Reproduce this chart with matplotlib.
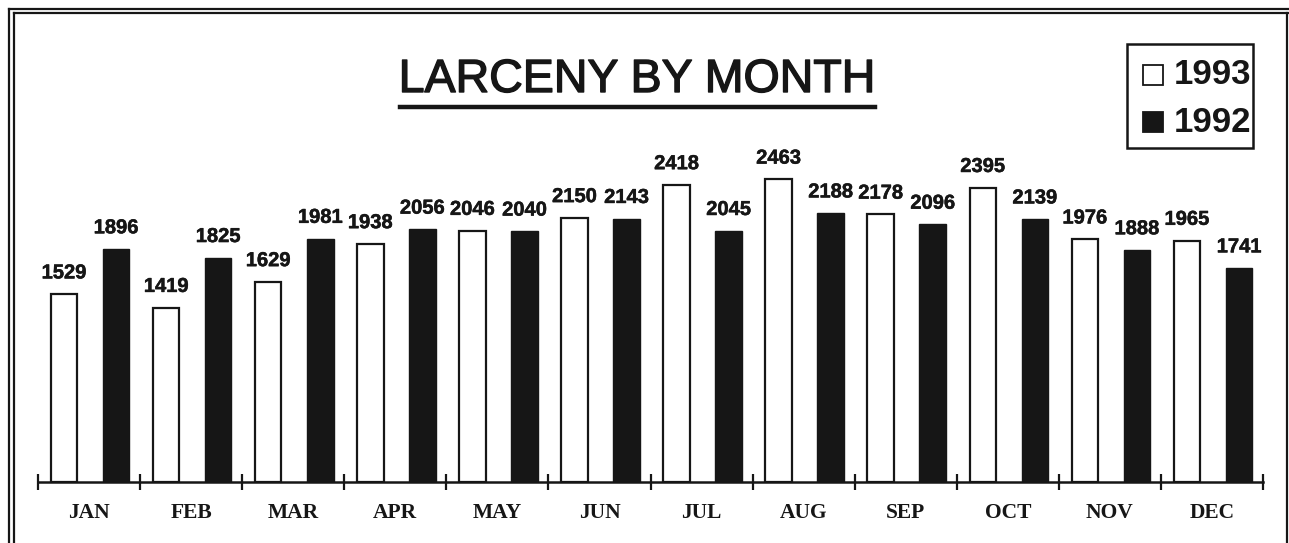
import matplotlib
matplotlib.use("Agg")
import matplotlib.pyplot as plt
import matplotlib.patheffects as pe
from matplotlib.patches import Rectangle
from matplotlib.lines import Line2D
import numpy as np

months = ["JAN", "FEB", "MAR", "APR", "MAY", "JUN",
          "JUL", "AUG", "SEP", "OCT", "NOV", "DEC"]
larceny_1993 = [1529, 1419, 1629, 1938, 2046, 2150, 2418, 2463, 2178, 2395, 1976, 1965]
larceny_1992 = [1896, 1825, 1981, 2056, 2040, 2143, 2045, 2188, 2096, 2139, 1888, 1741]
series_names = ["1993", "1992"]

W, H = 1289, 543
ink = "#161616"
thick = [pe.withStroke(linewidth=0.35, foreground=ink)]

fig = plt.figure(figsize=(W / 100, H / 100), dpi=100)
fig.patch.set_facecolor("white")

# axes placed in pixel terms: baseline y=482, x from 38 to 1263
ax = fig.add_axes([38 / W, (H - 482) / H, 1225 / W, 368.7 / H])
ax.set_xlim(0, 12)
ax.set_ylim(0, 3000)
ax.patch.set_alpha(0)

x = np.arange(len(months))
bw = 0.26
ax.bar(x + 0.255, larceny_1993, width=bw, color="white", edgecolor=ink,
       linewidth=1.6, zorder=3)
ax.bar(x + 0.765, larceny_1992, width=bw, color=ink, edgecolor=ink,
       linewidth=1.0, zorder=3)

for i in range(len(months)):
    ax.text(x[i] + 0.255, larceny_1993[i] + 95, str(larceny_1993[i]),
            ha="center", va="bottom", fontsize=14.5, fontweight="bold",
            family="Liberation Sans", color=ink, path_effects=thick)
    ax.text(x[i] + 0.765, larceny_1992[i] + 95, str(larceny_1992[i]),
            ha="center", va="bottom", fontsize=14.5, fontweight="bold",
            family="Liberation Sans", color=ink, path_effects=thick)

for s in ["top", "right", "left"]:
    ax.spines[s].set_visible(False)
ax.spines["bottom"].set_linewidth(1.8)
ax.spines["bottom"].set_color(ink)
ax.set_yticks([])
ax.set_xticks(np.arange(0, 13))
ax.set_xticklabels([])
ax.tick_params(axis="x", which="major", direction="inout", length=12,
               width=1.6, color=ink)
ax.set_xticks(x + 0.5, minor=True)
ax.set_xticklabels(months, minor=True, fontsize=15.5, fontweight="bold",
                   family="Liberation Serif", color=ink)
ax.tick_params(axis="x", which="minor", length=0, pad=15)

# title with underline
fig.text(637 / W, 1 - 80 / H, "LARCENY BY MONTH", ha="center", va="center",
         fontsize=33.5, family="Liberation Sans", color=ink,
         path_effects=[pe.withStroke(linewidth=1.0, foreground=ink)])
fig.add_artist(Line2D([400 / W, 875 / W], [1 - 107 / H, 1 - 107 / H],
                      transform=fig.transFigure, color=ink, linewidth=3.2))

# legend box
fig.add_artist(Rectangle((1127 / W, 1 - 148 / H), 126 / W, 104 / H,
                         transform=fig.transFigure, facecolor="white",
                         edgecolor=ink, linewidth=1.8))
for j, (name, fc) in enumerate(zip(series_names, ["white", ink])):
    yc = [75, 122][j]
    fig.add_artist(Rectangle((1143 / W, 1 - (yc + 10) / H), 20 / W, 20 / H,
                             transform=fig.transFigure, facecolor=fc,
                             edgecolor=ink, linewidth=1.3))
    fig.text(1174 / W, 1 - yc / H, name, ha="left", va="center",
             fontsize=25, fontweight="bold", family="Liberation Sans",
             color=ink)

# double frame
def fline(x0, y0, x1, y1, lw=1.6):
    fig.add_artist(Line2D([x0 / W, x1 / W], [1 - y0 / H, 1 - y1 / H],
                          transform=fig.transFigure, color=ink, linewidth=lw))

fline(9, 9, 1289, 9)
fline(9, 9, 9, H)
fline(14, 13, 1289, 13)
fline(14, 13, 14, H)
fline(1287, 13, 1287, H)

fig.savefig("out.png", dpi=100)
